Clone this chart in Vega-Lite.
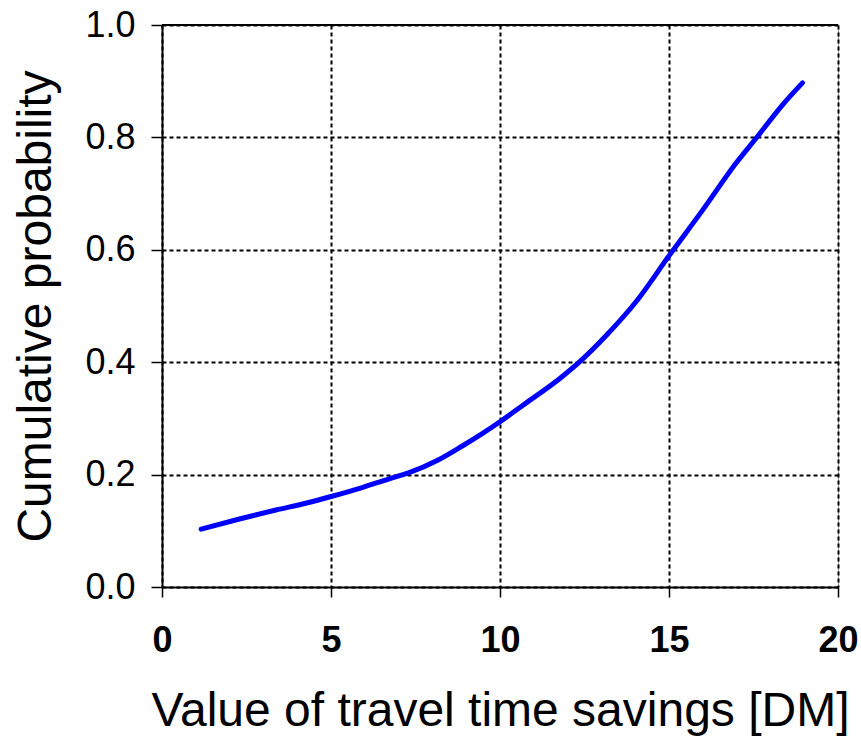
{
  "$schema": "https://vega.github.io/schema/vega-lite/v6.json",
  "width": 676,
  "height": 562,
  "autosize": {"type": "none"},
  "padding": {"left": 162, "top": 25, "right": 23, "bottom": 151},
  "background": "white",
  "config": {
    "view": {"stroke": "#999999", "strokeWidth": 1},
    "font": "Liberation Sans"
  },
  "data": {
    "values": [
      {"x": 1.16, "p": 0.103},
      {"x": 2.29, "p": 0.121},
      {"x": 3.37, "p": 0.137},
      {"x": 4.25, "p": 0.149},
      {"x": 5.0, "p": 0.161},
      {"x": 5.92, "p": 0.177},
      {"x": 6.7, "p": 0.192},
      {"x": 7.29, "p": 0.203},
      {"x": 8.17, "p": 0.226},
      {"x": 8.86, "p": 0.25},
      {"x": 9.45, "p": 0.272},
      {"x": 10.0, "p": 0.294},
      {"x": 10.69, "p": 0.324},
      {"x": 11.77, "p": 0.371},
      {"x": 12.36, "p": 0.401},
      {"x": 13.15, "p": 0.448},
      {"x": 14.03, "p": 0.508},
      {"x": 15.02, "p": 0.591},
      {"x": 16.0, "p": 0.671},
      {"x": 16.98, "p": 0.754},
      {"x": 17.57, "p": 0.798},
      {"x": 18.36, "p": 0.858},
      {"x": 18.95, "p": 0.897}
    ]
  },
  "layer": [
    {
      "mark": {"type": "line", "color": "#0000FF", "strokeWidth": 5, "strokeCap": "round", "strokeJoin": "round", "interpolate": "monotone"},
      "encoding": {
        "x": {
          "field": "x", "type": "quantitative",
          "scale": {"domain": [0, 20], "nice": false, "zero": false},
          "axis": {
            "values": [0, 5, 10, 15, 20],
            "title": "Value of travel time savings [DM]",
            "titleFont": "Liberation Sans", "titleFontSize": 48, "titleFontWeight": "normal", "titleColor": "black",
            "titlePadding": 29,
            "labelFont": "Liberation Sans", "labelFontSize": 36, "labelFontWeight": "bold", "labelColor": "black",
            "labelPadding": 26, "labelFlush": false,
            "domainColor": "black", "domainWidth": 2,
            "tickColor": "black", "tickWidth": 1.5, "tickSize": 10,
            "grid": true, "gridColor": "black", "gridWidth": 2, "gridDash": [4, 3], "gridOpacity": 1
          }
        },
        "y": {
          "field": "p", "type": "quantitative",
          "scale": {"domain": [0, 1], "nice": false},
          "axis": {
            "values": [0, 0.2, 0.4, 0.6, 0.8, 1.0],
            "format": ".1f",
            "title": "Cumulative probability",
            "titleFont": "Liberation Sans", "titleFontSize": 48, "titleFontWeight": "normal", "titleColor": "black",
            "titlePadding": 24,
            "labelFont": "Liberation Sans", "labelFontSize": 36, "labelFontWeight": "normal", "labelColor": "black",
            "labelPadding": 16, "labelFlush": false,
            "domainColor": "black", "domainWidth": 2,
            "tickColor": "black", "tickWidth": 1.5, "tickSize": 11,
            "grid": true, "gridColor": "black", "gridWidth": 2, "gridDash": [4, 3], "gridOpacity": 1
          }
        }
      }
    },
    {
      "mark": {"type": "rule", "color": "black", "strokeWidth": 2},
      "data": {"values": [{"y": 1.0}]},
      "encoding": {
        "y": {"field": "y", "type": "quantitative"}
      }
    }
  ]
}
